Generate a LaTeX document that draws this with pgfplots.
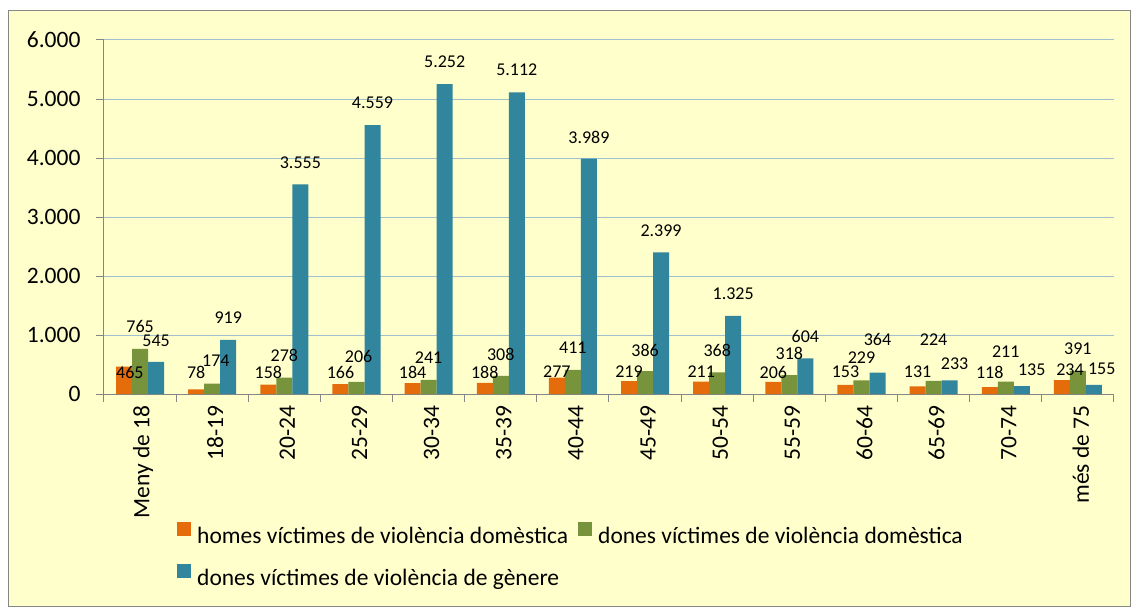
\documentclass[border=0pt]{standalone}
\usepackage{fontspec}
\setmainfont{Carlito}
\usepackage{pgfplots}
\usepackage{pgfplotstable}
\pgfplotsset{compat=1.18}
\definecolor{ora}{RGB}{228,108,10}
\definecolor{gre}{RGB}{119,147,60}
\definecolor{blu}{RGB}{49,133,156}
\definecolor{bgc}{RGB}{255,255,204}
\definecolor{framec}{RGB}{134,134,134}
\definecolor{gridc}{RGB}{160,192,206}
\newcommand{\bigfont}{\fontsize{23.5bp}{28bp}\selectfont}
\newcommand{\labfont}{\fontsize{18bp}{20bp}\selectfont}

\pgfplotstableread{
x o g b
0 465 765 545
1 78 174 919
2 158 278 3555
3 166 206 4559
4 184 241 5252
5 188 308 5112
6 277 411 3989
7 219 386 2399
8 211 368 1325
9 206 318 604
10 153 229 364
11 131 224 233
12 118 211 135
13 234 391 155
}\bars

\pgfplotstableread{
x y lab
-0.142 373 465
0.778 373 78
1.778 373 158
2.778 373 166
3.778 373 184
4.778 373 188
5.778 373 277
6.778 373 219
7.778 373 211
8.778 373 206
9.778 373 153
10.778 373 131
11.778 373 118
12.89 407 234
}\labO

\pgfplotstableread{
x y lab
0 1136 765
1.05 560 174
2 661 278
3.03 630 206
4 610 241
5 678 308
6 780 411
7 746 386
8 746 368
9 695 318
10 610 229
11 915 224
12 712 211
13 763 391
}\labG

\pgfplotstableread{
x y lab
0.222 898 545
1.222 1288 919
2.222 3915 3.555
3.222 4932 4.559
4.222 5627 5.252
5.222 5492 5.112
6.222 4356 3.989
7.222 2763 2.399
8.222 1695 1.325
9.222 983 604
10.222 932 364
11.29 508 233
12.36 407 135
13.33 424 155
}\labB

\pgfplotsset{
  sqlegend/.style={legend image code/.code={\fill[##1,draw=none] (0bp,0bp) rectangle (14bp,14bp);}},
  labplot/.style={draw=none, mark=none, forget plot, nodes near coords, point meta=explicit symbolic,
    every node near coord/.append style={anchor=center, font=\labfont, inner sep=0pt, text=black}},
}

\begin{document}
\begin{tikzpicture}
\useasboundingbox (-104bp,-214bp) rectangle (1035bp,394bp);
\fill[bgc] (-95bp,-212bp) rectangle (1026bp,383bp);
\draw[framec, line width=1bp] (-95bp,-212bp) rectangle (1026bp,383bp);
\begin{axis}[
  at={(0,0)}, anchor=south west,
  scale only axis, width=1010bp, height=354bp,
  xmin=-0.5, xmax=13.5, ymin=0, ymax=6000,
  separate axis lines,
  axis x line*=bottom, axis y line*=left,
  x axis line style={-}, y axis line style={-},
  axis line style={draw=framec, line width=1bp},
  ytick={0,1000,2000,3000,4000,5000,6000},
  yticklabels={0,1.000,2.000,3.000,4.000,5.000,6.000},
  yticklabel style={font=\bigfont, xshift=-12bp},
  ymajorgrids, grid style={gridc, line width=1bp},
  xtick={-0.5,0.5,...,13.5},
  x tick label as interval,
  xticklabels={Meny de 18,18-19,20-24,25-29,30-34,35-39,40-44,45-49,50-54,55-59,60-64,65-69,70-74,més de 75},
  xticklabel style={rotate=90, anchor=east, font=\bigfont, yshift=-3bp},
  tick align=outside, major tick length=8bp,
  tick style={framec, line width=1bp},
  xtick pos=bottom, ytick pos=left,
  legend columns=2,
  legend style={draw=none, fill=none, at={(rel axis cs:0,0)}, anchor=north west,
    xshift=70bp, yshift=-126bp, font=\bigfont, row sep=17bp,
    /tikz/every odd column/.append style={column sep=4bp},
    /tikz/every even column/.append style={column sep=8bp}},
  legend cell align=left,
]
\addplot[ybar, bar width=0.222, bar shift=-0.222, fill=ora, draw=none, sqlegend] table[x=x,y=o] {\bars};
\addlegendentry{homes víctimes de violència domèstica}
\addplot[ybar, bar width=0.222, bar shift=0, fill=gre, draw=none, sqlegend] table[x=x,y=g] {\bars};
\addlegendentry{dones víctimes de violència domèstica}
\addplot[ybar, bar width=0.222, bar shift=0.222, fill=blu, draw=none, sqlegend] table[x=x,y=b] {\bars};
\addlegendentry{dones víctimes de violència de gènere}
\addplot[labplot] table[x=x,y=y,meta=lab] {\labO};
\addplot[labplot] table[x=x,y=y,meta=lab] {\labG};
\addplot[labplot] table[x=x,y=y,meta=lab] {\labB};
\end{axis}
\end{tikzpicture}
\end{document}
